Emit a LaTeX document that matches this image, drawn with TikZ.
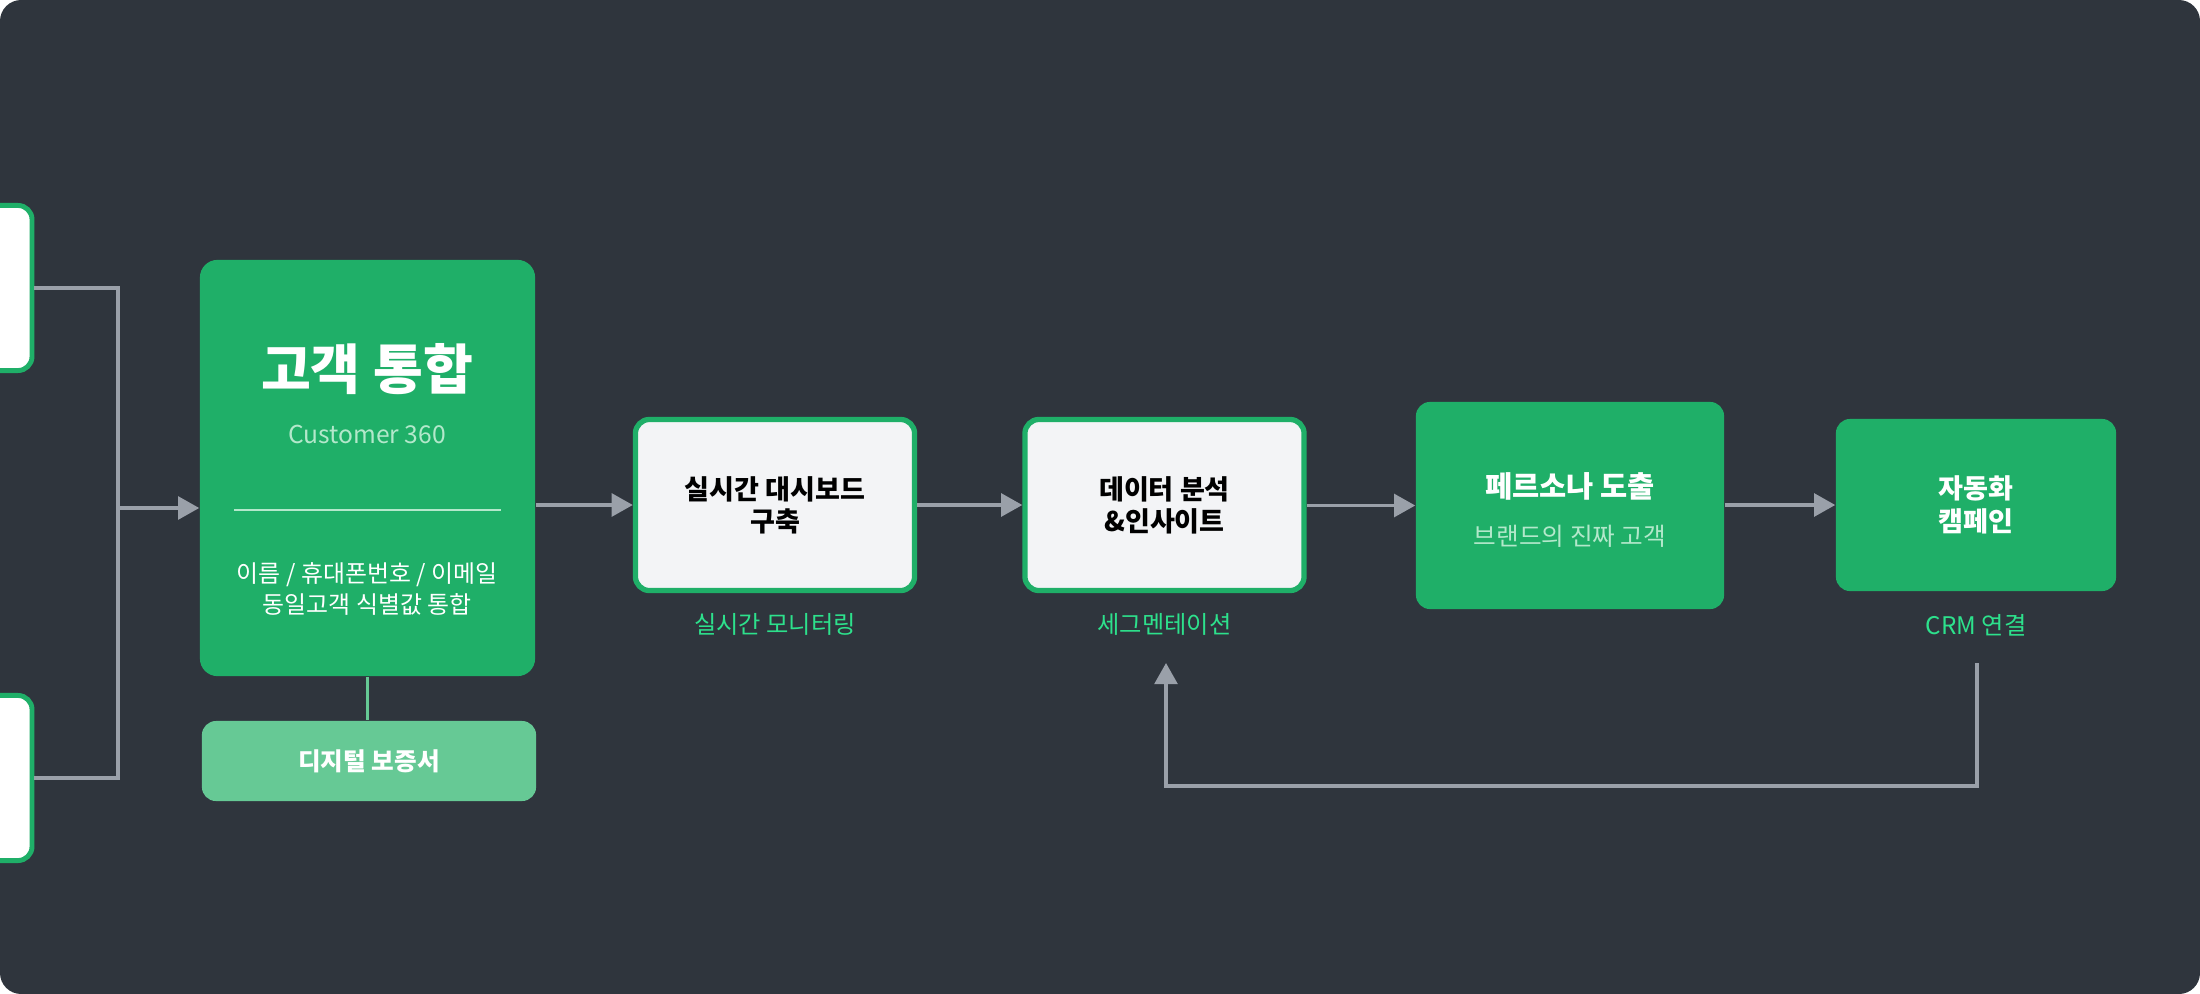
\documentclass[tikz,border=0pt]{standalone}
\usepackage{fontspec}
\setmainfont{Noto Sans CJK KR}
\usetikzlibrary{arrows.meta}
\definecolor{bgdark}{HTML}{2F353D}
\definecolor{brandgreen}{HTML}{1FAF68}
\definecolor{softgreen}{HTML}{66C995}
\definecolor{mintlabel}{HTML}{2DE18C}
\definecolor{mintsub}{HTML}{B3E8CB}
\definecolor{linkgray}{HTML}{9AA0A9}
\definecolor{cardfill}{HTML}{F3F4F6}

\begin{document}
\begin{tikzpicture}[x=0.01cm, y=-0.01cm,
  srcbox/.style={draw=brandgreen, line width=1.4pt, fill=white, rounded corners=4pt, minimum width=1cm, minimum height=1.65cm},
  hubbox/.style={fill=brandgreen, rounded corners=5pt, minimum width=3.35cm, minimum height=4.16cm},
  notebox/.style={fill=softgreen, rounded corners=4pt, minimum width=3.34cm, minimum height=0.8cm, text=white, font=\bfseries\fontsize{7pt}{8.5pt}\selectfont},
  cardbox/.style={draw=brandgreen, line width=1.5pt, fill=cardfill, rounded corners=4pt, minimum width=2.79cm, minimum height=1.71cm, align=center, font=\bfseries\fontsize{7.7pt}{9.1pt}\selectfont},
  greenbox/.style={fill=brandgreen, rounded corners=4pt, text=white, align=center},
  steplabel/.style={text=mintlabel, font=\fontsize{6.9pt}{8.5pt}\selectfont},
  flow/.style={draw=linkgray, line width=0.9pt, -{Triangle[length=6pt,width=6.5pt]}},
  link/.style={draw=linkgray, line width=0.9pt},
  tie/.style={draw=softgreen, line width=1.1pt},
  divider/.style={draw=mintsub, line width=0.4pt}]
\fill[white] (0,0) rectangle (2200,994);
\fill[bgdark, rounded corners=6pt] (0,0) rectangle (2200,994);
\clip (0,0) rectangle (2200,994);

\node[srcbox] (srcA) at (-18,288) {};
\node[srcbox] (srcB) at (-18,778) {};
\coordinate (merge) at (118,508);

\node[hubbox] (hub) at (367.5,468) {};
\node[text=white, font=\bfseries\fontsize{15.4pt}{18pt}\selectfont] (hubname) at (367,369) {고객 통합};
\node[text=mintsub, font=\fontsize{7pt}{9pt}\selectfont] (hubtag) at (367,434) {Customer 360};
\draw[divider] (234,510) -- (501,510);
\node[text=white, align=center, font=\fontsize{6.8pt}{8.8pt}\selectfont] (hubnote) at (367,589) {이름 / 휴대폰번호 / 이메일\\동일고객 식별값 통합};
\node[notebox] (note) at (369,761) {디지털 보증서};

\node[cardbox] (dashboard) at (775,505) {실시간 대시보드\\구축};
\node[cardbox] (analysis) at (1164.5,505) {데이터 분석\\\&인사이트};
\node[greenbox, minimum width=3.08cm, minimum height=2.07cm] (persona) at (1570,505.5) {};
\node[text=white, font=\bfseries\fontsize{8.4pt}{10pt}\selectfont] (personaname) at (1570,486) {페르소나 도출};
\node[text=mintsub, font=\fontsize{7pt}{8.5pt}\selectfont] (personatag) at (1570,536) {브랜드의 진짜 고객};
\node[greenbox, minimum width=2.8cm, minimum height=1.72cm, font=\bfseries\fontsize{7.7pt}{9.3pt}\selectfont] (campaign) at (1976,505) {자동화\\캠페인};

\node[steplabel] (dashlabel) at (775,624) {실시간 모니터링};
\node[steplabel] (analysislabel) at (1164.5,624) {세그멘테이션};
\node[steplabel] (camplabel) at (1976,625) {CRM 연결};

\draw[link] (srcA.east) -| (merge);
\draw[link] (srcB.east) -| (merge);
\draw[flow] (merge) -- (merge -| hub.west);
\draw[tie] (hub.south) -- (hub.south |- note.north);
\foreach \a/\b in {hub/dashboard, dashboard/analysis, analysis/persona, persona/campaign}
  \draw[flow] (\a.east |- \b.west) -- (\b.west);
\coordinate (loopstart) at (1977,663);
\coordinate (loopend) at (1166,663);
\draw[flow] (loopstart) -- ++(0,123) -| (loopend);
\end{tikzpicture}
\end{document}
